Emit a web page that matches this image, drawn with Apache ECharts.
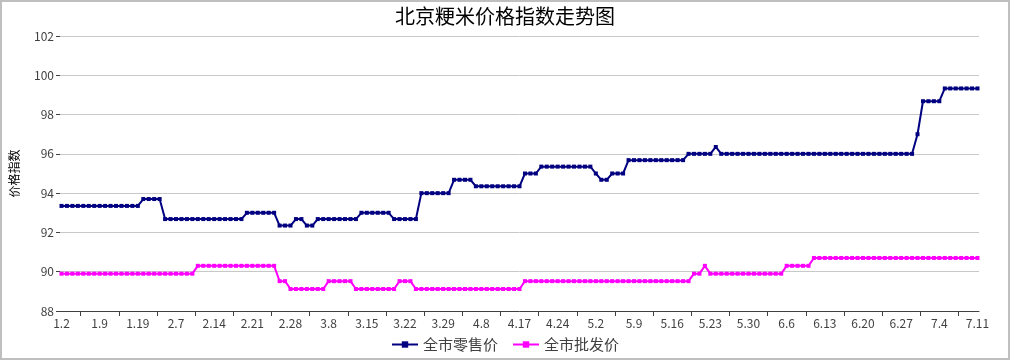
<!DOCTYPE html>
<html><head><meta charset="utf-8">
<script src="https://cdn.jsdelivr.net/npm/echarts@6/dist/echarts.min.js"></script>
<style>html,body{margin:0;padding:0;background:#fff}#c{width:1010px;height:360px}</style>
</head><body><div id="c"></div>
<script>
const chartTitle = '北京粳米价格指数走势图';
const yName = '价格指数';
const tickLabels = ['1.2','1.9','1.19','2.7','2.14','2.21','2.28','3.8','3.15','3.22','3.29','4.8','4.17','4.24','5.2','5.9','5.16','5.23','5.30','6.6','6.13','6.20','6.27','7.4','7.11'];
const pointsPerLabel = 7;
const seriesNames = ['全市零售价','全市批发价'];
const retail = [
93.35,93.35,93.35,93.35,93.35,93.35,93.35,93.35,93.35,93.35,93.35,93.35,93.35,93.35,93.35,
93.7,93.7,93.7,93.7,
92.68,92.68,92.68,92.68,92.68,92.68,92.68,92.68,92.68,92.68,92.68,92.68,92.68,92.68,92.68,
93.0,93.0,93.0,93.0,93.0,93.0,
92.35,92.35,92.35,
92.68,92.68,
92.35,92.35,
92.68,92.68,92.68,92.68,92.68,92.68,92.68,92.68,
93.0,93.0,93.0,93.0,93.0,93.0,
92.68,92.68,92.68,92.68,92.68,
94.0,94.0,94.0,94.0,94.0,94.0,
94.68,94.68,94.68,94.68,
94.35,94.35,94.35,94.35,94.35,94.35,94.35,94.35,94.35,
95.0,95.0,95.0,
95.35,95.35,95.35,95.35,95.35,95.35,95.35,95.35,95.35,95.35,
95.0,
94.68,94.68,
95.0,95.0,95.0,
95.68,95.68,95.68,95.68,95.68,95.68,95.68,95.68,95.68,95.68,95.68,
96.0,96.0,96.0,96.0,96.0,
96.35,
96.0,96.0,96.0,96.0,96.0,96.0,96.0,96.0,96.0,96.0,96.0,96.0,96.0,96.0,96.0,96.0,96.0,96.0,
96.0,96.0,96.0,96.0,96.0,96.0,96.0,96.0,96.0,96.0,96.0,96.0,96.0,96.0,96.0,96.0,96.0,96.0,
97.0,
98.68,98.68,98.68,98.68,
99.33,99.33,99.33,99.33,99.33,99.33,99.33
];
const wholesale = [
89.9,89.9,89.9,89.9,89.9,89.9,89.9,89.9,89.9,89.9,89.9,89.9,89.9,89.9,89.9,89.9,89.9,89.9,89.9,89.9,89.9,89.9,89.9,89.9,89.9,
90.3,90.3,90.3,90.3,90.3,90.3,90.3,90.3,90.3,90.3,90.3,90.3,90.3,90.3,90.3,
89.52,89.52,
89.12,89.12,89.12,89.12,89.12,89.12,89.12,
89.52,89.52,89.52,89.52,89.52,
89.12,89.12,89.12,89.12,89.12,89.12,89.12,89.12,
89.52,89.52,89.52,
89.12,89.12,89.12,89.12,89.12,89.12,89.12,89.12,89.12,89.12,89.12,89.12,89.12,89.12,89.12,89.12,89.12,89.12,89.12,89.12,
89.52,89.52,89.52,89.52,89.52,89.52,89.52,89.52,89.52,89.52,89.52,89.52,89.52,89.52,89.52,89.52,
89.52,89.52,89.52,89.52,89.52,89.52,89.52,89.52,89.52,89.52,89.52,89.52,89.52,89.52,89.52,
89.9,89.9,
90.3,
89.9,89.9,89.9,89.9,89.9,89.9,89.9,89.9,89.9,89.9,89.9,89.9,89.9,89.9,
90.3,90.3,90.3,90.3,90.3,
90.7,90.7,90.7,90.7,90.7,90.7,90.7,90.7,90.7,90.7,90.7,90.7,90.7,90.7,90.7,90.7,
90.7,90.7,90.7,90.7,90.7,90.7,90.7,90.7,90.7,90.7,90.7,90.7,90.7,90.7,90.7
];
const colors = ['#000080','#ff00ff'];
const yMin = 88, yMax = 102, yStep = 2;

const lastIdx = (tickLabels.length - 1) * pointsPerLabel;
const chart = echarts.init(document.getElementById('c'), null, {renderer:'canvas'});
const font = '"Noto Sans CJK SC","Noto Sans",sans-serif';
function mk(name, vals, color){
  return {
    name, type:'line', xAxisIndex:1, yAxisIndex:1,
    data: vals.map((v,i)=>[i,v]),
    symbol:'rect', symbolSize:4, showAllSymbol:true,
    lineStyle:{color, width:2}, itemStyle:{color},
    emphasis:{disabled:true}
  };
}
chart.setOption({
  animation:false,
  textStyle:{fontFamily:font},
  title:{text:chartTitle, left:'center', top:1, textStyle:{fontSize:20, fontWeight:'normal', color:'#000', fontFamily:font}},
  grid:[
    {left:58, right:31, top:36, bottom:49},
    {left:61.5, right:32.5, top:36, bottom:49}
  ],
  xAxis:[
    {gridIndex:0, type:'value', min:0, max:1, axisLine:{show:true, lineStyle:{color:'#404040', width:1}}, axisTick:{show:false}, axisLabel:{show:false}, splitLine:{show:false}},
    {gridIndex:1, type:'value', min:0, max:lastIdx, interval:pointsPerLabel,
     axisLine:{show:false}, axisTick:{show:false},
     minorTick:{show:true, splitNumber:2, length:5, lineStyle:{color:'#404040', width:1}},
     splitLine:{show:false}, minorSplitLine:{show:false},
     axisLabel:{show:true, showMinLabel:true, showMaxLabel:true, margin:6, fontSize:12, color:'#404040', fontFamily:font,
       formatter:v=>tickLabels[Math.round(v/pointsPerLabel)]}}
  ],
  yAxis:[
    {gridIndex:0, type:'value', min:yMin, max:yMax, interval:yStep,
     name:yName, nameLocation:'middle', nameGap:40, nameRotate:90,
     nameTextStyle:{fontSize:12, color:'#000', fontFamily:font},
     axisLine:{show:false}, axisTick:{show:true, length:4, lineStyle:{color:'#404040'}},
     axisLabel:{fontSize:12, color:'#404040', margin:6, fontFamily:font},
     splitLine:{show:true, lineStyle:{color:'#c8c8c8', width:1}}},
    {gridIndex:1, type:'value', min:yMin, max:yMax, show:false}
  ],
  legend:{bottom:3, left:'center', itemWidth:26, itemHeight:8, itemGap:14,
    textStyle:{fontSize:15, color:'#404040', fontFamily:font},
    data:seriesNames},
  graphic:[{type:'rect', shape:{x:1, y:1, width:1008, height:358}, style:{fill:'none', stroke:'#bfbfbf', lineWidth:2}, silent:true}],
  series:[mk(seriesNames[0], retail, colors[0]), mk(seriesNames[1], wholesale, colors[1])]
});
</script></body></html>
